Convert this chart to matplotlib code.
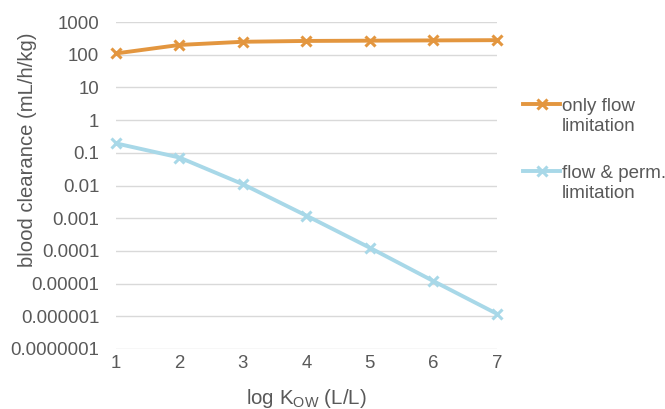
import matplotlib.pyplot as plt
from matplotlib.lines import Line2D

plt.rcParams['font.family'] = ['Liberation Sans', 'DejaVu Sans']

log_kow = [1, 2, 3, 4, 5, 6, 7]
only_flow = [110, 200, 250, 265, 270, 275, 280]
flow_perm = [0.195, 0.072, 0.011, 0.0012, 0.000125, 0.000012, 0.0000012]
ytick_vals = [1e-7, 1e-6, 1e-5, 1e-4, 1e-3, 1e-2, 1e-1, 1, 10, 100, 1000]
ytick_labels = ["0.0000001", "0.000001", "0.00001", "0.0001", "0.001", "0.01",
                "0.1", "1", "10", "100", "1000"]

orange = "#E3963F"
blue = "#A8D8E8"
grey = "#595959"

fig = plt.figure(figsize=(6.65, 4.09), dpi=100)
ax = fig.add_axes([0.1744, 0.1467, 0.5726, 0.7993])

ax.plot(log_kow, only_flow, color=orange, lw=2.8, marker="x", ms=7, mew=2.2, clip_on=False, zorder=3)
ax.plot(log_kow, flow_perm, color=blue, lw=2.8, marker="x", ms=7, mew=2.2, clip_on=False, zorder=3)

ax.set_yscale("log")
ax.set_ylim(1e-7, 1e3)
ax.set_xlim(1, 7)
ax.set_yticks(ytick_vals)
ax.set_yticklabels(ytick_labels)
ax.minorticks_off()
ax.set_xticks(log_kow)
ax.grid(axis="y", color="#D9D9D9", lw=1)
ax.set_axisbelow(True)
for s in ax.spines.values():
    s.set_visible(False)
ax.tick_params(length=0, labelsize=13.4, labelcolor=grey)
ax.tick_params(axis="y", pad=12)
ax.tick_params(axis="x", pad=4)

ax.set_xlabel("log K$_\\mathregular{OW}$ (L/L)", fontsize=14.8, color=grey, va="center")
ax.xaxis.set_label_coords(0.499, -0.15)
ax.set_ylabel("blood clearance (mL/h/kg)", fontsize=14.6, color=grey, va="center")
ax.yaxis.set_label_coords(-0.232, 0.61)

# legend drawn by hand so the marker sits on the first text line
legend_items = [("only flow\nlimitation", orange, 104), ("flow & perm.\nlimitation", blue, 171)]
for label, col, ypx in legend_items:
    yf = 1 - ypx / 409
    fig.add_artist(Line2D([523 / 665, 560 / 665], [yf, yf], color=col, lw=2.8))
    fig.add_artist(Line2D([541.5 / 665], [yf], color=col, marker="x", ms=7, mew=2.2))
    fig.text(562 / 665, yf + 0.015, label, fontsize=13.5, color=grey, va="top", ha="left",
             linespacing=1.25)

fig.savefig("out.png", dpi=100)
